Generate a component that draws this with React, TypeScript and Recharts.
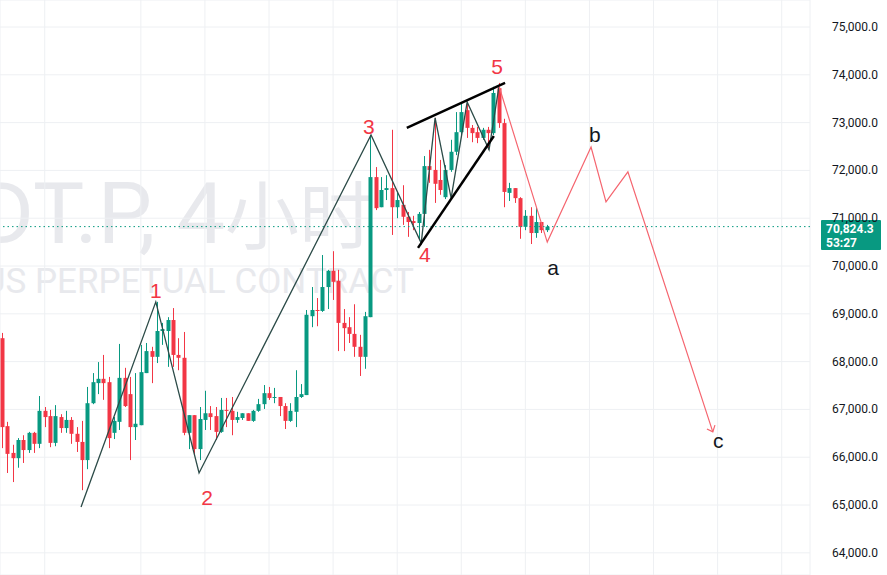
import React from 'react';
import { ComposedChart, Bar, Line, Scatter, XAxis, YAxis, CartesianGrid, ReferenceLine } from 'recharts';

// 4h candles, oldest first
const opens = [
  68490, 66650, 66090, 65980, 66360, 66150, 66510, 66280, 66970, 66860,
  66300, 66840, 66610, 66780, 66490, 66320, 65940, 67130, 67550, 67640,
  67570, 66510, 66740, 67660, 67320, 66630, 66670, 67760, 68220, 68100,
  68640, 68640, 68870, 68140, 68080, 66510, 66880, 66170, 66780, 66920,
  66860, 66530, 66990, 66970, 66780, 66820, 66920, 66760, 66970, 67110,
  67340, 67240, 67260, 67070, 66760, 66950, 67260, 67300, 68950, 69080,
  69060, 69560, 69900, 69690, 68810, 68720, 68580, 68310, 68100, 68930,
  71860, 71230, 71590, 71630, 71230, 71280, 71030, 70940, 70900, 71090,
  72090, 72010, 71800, 71440, 72010, 72390, 72800, 73260, 72890, 72800,
  72680, 72850, 72780, 73720, 72990, 71530, 71630, 71420, 70820, 71050,
  70690, 70920, 70750,
];
const highs = [
  68600, 66740, 66260, 66400, 66460, 66530, 66530, 67280, 67050, 66990,
  67090, 66900, 66970, 66840, 66630, 66760, 67470, 67760, 67990, 68140,
  67680, 66840, 68370, 67870, 67680, 67760, 68350, 68390, 68310, 69250,
  68810, 68930, 69120, 68490, 68620, 66880, 66880, 67050, 67390, 67070,
  67050, 67240, 67240, 67260, 66950, 66920, 66920, 66990, 67220, 67510,
  67470, 67450, 67260, 67130, 67130, 67820, 67530, 69080, 69560, 69330,
  70230, 69920, 70310, 69920, 69100, 68930, 69200, 68560, 69040, 72740,
  72070, 71860, 71900, 72850, 71530, 71690, 71130, 71050, 71130, 72300,
  72430, 73100, 72220, 72110, 72640, 73220, 73430, 73430, 72950, 72910,
  72890, 72910, 73750, 73830, 73080, 71740, 71630, 71440, 71170, 71230,
  71230, 70920, 70860,
];
const lows = [
  66190, 65670, 65480, 65780, 65880, 66090, 66090, 66190, 66630, 66210,
  66230, 66510, 66510, 66280, 66110, 65310, 65750, 67110, 67320, 67200,
  66190, 66380, 66570, 67050, 65940, 66360, 66670, 67760, 67550, 67970,
  68350, 67890, 67890, 67820, 66460, 66170, 66050, 65940, 66570, 66570,
  66360, 66510, 66630, 66460, 66720, 66780, 66760, 66740, 66950, 67010,
  67200, 67130, 66860, 66590, 66740, 66630, 67240, 67300, 68720, 68740,
  69040, 69100, 69290, 68220, 68220, 68390, 68100, 67700, 67850, 68930,
  71170, 71230, 71380, 70650, 71000, 70860, 70610, 70750, 70540, 70820,
  71740, 71320, 71490, 71400, 71970, 72320, 72740, 72680, 72590, 72570,
  72640, 72430, 72740, 72890, 71230, 71360, 71320, 70570, 70750, 70460,
  70590, 70690, 70710,
];
const closes = [
  66630, 66070, 65980, 66360, 66150, 66510, 66280, 66970, 66840, 66300,
  66860, 66610, 66780, 66490, 66320, 65940, 67130, 67570, 67640, 67550,
  66400, 66760, 67660, 67070, 66630, 66700, 67780, 68220, 68100, 68640,
  68680, 68870, 68140, 68080, 66510, 66880, 66170, 66800, 66920, 66840,
  66530, 66990, 66970, 66780, 66840, 66920, 66760, 66970, 67110, 67340,
  67240, 67260, 67070, 66760, 66970, 67260, 67320, 68980, 69080, 69060,
  69560, 69900, 69670, 68810, 68700, 68580, 68310, 68100, 68950, 71860,
  71210, 71590, 71630, 71230, 71380, 71030, 70920, 70900, 71090, 72090,
  72010, 71720, 71590, 72010, 72390, 72800, 73220, 72890, 72780, 72680,
  72850, 72780, 73620, 72990, 71550, 71630, 71420, 70820, 71050, 70690,
  70920, 70750, 70824.3,
];
const lastPrice = 70824.3;
const countdown = '53:27';

// impulse 1-5 zigzag, then the sub-waves of wave 5 (x in candle index)
const waveX = [14.8, 28.8, 36.9, 69.1, 78.5, 81.1, 84.1, 87.1, 91.2, 93.1];
const waveP = [64960, 69250, 65670, 72740, 70480, 73100, 71420, 73430, 72430, 73790];

// ending diagonal
const wedgeTopX = [75.8, 94.2];
const wedgeTopP = [72890, 73830];
const wedgeBotX = [77.9, 92.1];
const wedgeBotP = [70380, 72720];

// projected a-b-c
const projX = [93.1, 102.1, 110.3, 113.1, 117.2, 133.1];
const projP = [73750, 70500, 72490, 71340, 71970, 66530];
const arrowX = [132.0, 133.1, 133.5];
const arrowP = [66590, 66530, 66670];

const labelText = ['1', '2', '3', '4', '5', 'a', 'b', 'c'];
const labelX = [28.8, 38.4, 68.7, 79.2, 92.7, 103.2, 111.0, 134.1];
const labelP = [69480, 65150, 72910, 70250, 74180, 69960, 72760, 66340];

const priceTicks = [64000, 65000, 66000, 67000, 68000, 69000, 70000, 71000, 72000, 73000, 74000, 75000];
const timeTicks = [8, 26, 38, 50, 62, 74, 86, 98, 110, 122, 134, 146];

const UP = '#089981';
const DOWN = '#f23645';

const candles = opens.map((o, i) => ({ i, o, h: highs[i], l: lows[i], c: closes[i] }));
const toPts = (xs: number[], ps: number[]) => xs.map((x, k) => ({ i: x, p: ps[k] }));
const labels = labelText.map((t, k) => ({ i: labelX[k], p: labelP[k], t }));

const Candle = (props: any) => {
  const { x, y, width, height, payload } = props;
  const { o, h, l, c } = payload;
  const k = height / (h - l || 1);
  const top = y + (h - Math.max(o, c)) * k;
  const bot = y + (h - Math.min(o, c)) * k;
  const color = c >= o ? UP : DOWN;
  const cx = Math.round(x + width / 2) + 0.5;
  return (
    <g>
      <line x1={cx} x2={cx} y1={y} y2={y + height} stroke={color} strokeWidth={1} />
      <rect x={cx - 2} y={top} width={4} height={Math.max(1, bot - top)} fill={color} />
    </g>
  );
};

const WaveLabel = (props: any) => {
  const { cx, cy, payload } = props;
  const isNum = /\d/.test(payload.t);
  return (
    <text x={cx} y={cy} textAnchor="middle" dominantBaseline="central"
      fontSize={21} fontFamily="'Liberation Sans', Arial, sans-serif"
      fill={isNum ? '#f23645' : '#131722'}>
      {payload.t}
    </text>
  );
};

const PriceTick = (props: any) => {
  const { x, y, payload } = props;
  return (
    <text x={x + 60} y={y} textAnchor="end" dominantBaseline="central" fontSize={12}
      fontFamily="Roboto, 'Liberation Sans', sans-serif" fill="#131722">
      {payload.value.toLocaleString('en-US', { minimumFractionDigits: 1, maximumFractionDigits: 1 })}
    </text>
  );
};

const PriceBox = (props: any) => {
  const vb = props.viewBox;
  const bx = vb.x + vb.width + 11;
  const by = vb.y - 6.5;
  return (
    <g fontFamily="Roboto, 'Liberation Sans', sans-serif" fontSize={12} fontWeight={700} fill="#fff">
      <rect x={bx} y={by} width={60} height={30} fill={UP} rx={1} />
      <text x={bx + 5} y={by + 9}  dominantBaseline="central">
        {lastPrice.toLocaleString('en-US', { minimumFractionDigits: 1 })}
      </text>
      <text x={bx + 5} y={by + 23} dominantBaseline="central">{countdown}</text>
    </g>
  );
};

const lineProps = { dataKey: 'p', dot: false, activeDot: false, isAnimationActive: false, legendType: 'none' as const };

export default function App() {
  return (
    <div style={{ position: 'fixed', left: 0, top: 0, width: 887, height: 575, background: '#fff', overflow: 'hidden' }}>
      {/* symbol watermark */}
      <svg width={887} height={575} style={{ position: 'absolute', left: 0, top: 0 }}>
        <text x={373} y={243} textAnchor="end" fontSize={86} fill="#e8e9ed"
          fontFamily="Roboto, 'Noto Sans CJK SC', sans-serif">
          BTCUSDT.P, 4<tspan fontSize={74} fontFamily="'Noto Sans CJK SC', sans-serif">小时</tspan>
        </text>
        <text x={414} y={293} textAnchor="end" fontSize={35} fill="#e8e9ed"
          fontFamily="Roboto, sans-serif">BITCOIN / TETHERUS PERPETUAL CONTRACT</text>
      </svg>
      <div style={{ position: 'absolute', left: 0, top: 0 }}>
        <ComposedChart width={887} height={575} data={candles} margin={{ top: 0, right: 0, bottom: 0, left: 0 }}>
          <CartesianGrid stroke="#eef0f3" />
          <XAxis type="number" dataKey="i" domain={[-0.375, 151.3]} ticks={timeTicks} allowDataOverflow hide />
          <YAxis orientation="right" width={77} domain={[63536, 75565]} ticks={priceTicks}
            allowDataOverflow axisLine={false} tickLine={false} tick={<PriceTick />} />
          <ReferenceLine y={lastPrice} stroke={UP} strokeDasharray="1.5 3" label={<PriceBox />} />
          <Bar dataKey={(d: any) => [d.l, d.h]} barSize={4} shape={<Candle />} isAnimationActive={false} />
          <Line {...lineProps} data={toPts(waveX, waveP)} stroke="#2c4b48" strokeWidth={1.3} />
          <Line {...lineProps} data={toPts(wedgeTopX, wedgeTopP)} stroke="#000" strokeWidth={2.5} />
          <Line {...lineProps} data={toPts(wedgeBotX, wedgeBotP)} stroke="#000" strokeWidth={2.5} />
          <Line {...lineProps} data={toPts(projX, projP)} stroke="#f5656f" strokeWidth={1.2} />
          <Line {...lineProps} data={toPts(arrowX, arrowP)} stroke="#f5656f" strokeWidth={1.2} />
          <Scatter data={labels} dataKey="p" shape={<WaveLabel />} isAnimationActive={false} />
        </ComposedChart>
      </div>
    </div>
  );
}
